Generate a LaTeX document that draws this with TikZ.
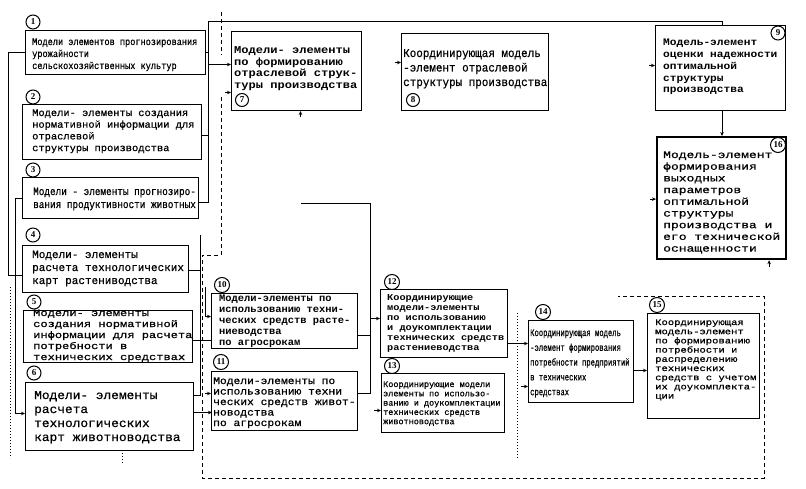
\documentclass[tikz,border=0pt]{standalone}
\usepackage{fontspec}
\setmainfont{Liberation Serif}
\newfontfamily\monofam[UprightFeatures={FakeBold=0.6}]{Liberation Mono}
\usepackage{graphicx}
\usetikzlibrary{arrows.meta}
\newcommand\bt[5]{\scalebox{#1}[1]{\fontsize{#2}{#3}\selectfont\monofam#4\begin{tabular}[t]{@{}l@{}}#5\end{tabular}}}
\tikzset{
  boxst/.style={draw, line width=1pt, inner sep=0pt, anchor=north west},
  txt/.style={anchor=base west, inner sep=0pt},
  num/.style={circle, draw, line width=1pt, inner sep=0pt, minimum size=14pt, font=\fontsize{9}{9}\selectfont\bfseries},
  ln/.style={line width=0.9pt},
  arr/.style={line width=0.9pt, -{Stealth[length=4pt,width=3.5pt]}},
  dsh/.style={line width=0.8pt, dash pattern=on 4pt off 3pt},
  dtt/.style={line width=0.8pt, dash pattern=on 1pt off 2pt}
}
\begin{document}
\begin{tikzpicture}[x=1pt,y=-1pt]
\fill[white] (0,0) rectangle (806,489);
\useasboundingbox (0,0) rectangle (806,489);

% boxes
\node[boxst, minimum width=180pt, minimum height=44pt] (b1) at (25,30) {};
\node[boxst, minimum width=179pt, minimum height=55pt] (b2) at (22,104) {};
\node[boxst, minimum width=176pt, minimum height=41pt] (b3) at (22,177) {};
\node[boxst, minimum width=166pt, minimum height=47pt] (b4) at (22,245) {};
\node[boxst, minimum width=169pt, minimum height=52pt] (b5) at (23,310) {};
\node[boxst, minimum width=168pt, minimum height=68pt] (b6) at (25,382) {};
\node[boxst, minimum width=130pt, minimum height=79pt] (b7) at (231,31) {};
\node[boxst, minimum width=147pt, minimum height=77pt] (b8) at (401,33) {};
\node[boxst, minimum width=130pt, minimum height=85pt] (b9) at (655,25) {};
\node[boxst, line width=2.2pt, minimum width=129pt, minimum height=122pt] (b16) at (656,136) {};
\node[boxst, minimum width=146pt, minimum height=55pt] (b10) at (211,293) {};
\node[boxst, minimum width=146pt, minimum height=59pt] (b11) at (211,371) {};
\node[boxst, minimum width=127pt, minimum height=68pt] (b12) at (380,289) {};
\node[boxst, minimum width=123pt, minimum height=59pt] (b13) at (381,373) {};
\node[boxst, minimum width=105pt, minimum height=82pt] (b14) at (528,320) {};
\node[boxst, minimum width=112pt, minimum height=105pt] (b15) at (647,313) {};

% texts
\node[txt] (t1) at (32,45) {\bt{0.86}{10}{12}{}{Модели элементов прогнозирования\\урожайности\\сельскохозяйственных  культур}};
\node[txt] (t2) at (32,116) {\bt{1.04}{10}{11.7}{}{Модели- элементы создания\\нормативной информации для\\отраслевой\\структуры производства}};
\node[txt] (t3) at (33,195) {\bt{0.85}{11}{13}{}{Модели - элементы прогнозиро-\\вания продуктивности животных}};
\node[txt] (t4) at (32,258) {\bt{1.0}{11}{13}{}{Модели- элементы\\расчета технологических\\карт растениводства}};
\node[txt] (t5) at (33,316) {\bt{1.27}{9.5}{11}{}{Модели- элементы\\создания нормативной\\информации для расчета\\потребности в\\технических средствах}};
\node[txt] (t6) at (34,399) {\bt{1.07}{12}{14}{}{Модели- элементы\\расчета\\технологических\\карт животноводства}};
\node[txt] (t7) at (234,54) {\bt{1.15}{10.5}{11.5}{\bfseries}{Модели- элементы\\по формированию\\отраслевой струк-\\туры производства}};
\node[txt] (t8) at (403,57) {\bt{0.91}{12}{14.5}{}{Координирующая модель\\-элемент отраслевой\\структуры производства}};
\node[txt] (t9) at (663,46) {\bt{1.12}{10}{11.7}{\bfseries}{Модель-элемент\\оценки надежности\\оптимальной\\структуры\\производства}};
\node[txt] (t16) at (663,158) {\bt{1.3}{10}{11.7}{}{Модель-элемент\\формирования\\выходных\\параметров\\оптимальной\\структуры\\производства и\\его технической\\оснащенности}};
\node[txt] (t10) at (219,301) {\bt{1.04}{10}{11}{\bfseries}{Модели-элементы по\\использованию техни-\\ческих средств расте-\\ниеводства\\по агросрокам}};
\node[txt] (t11) at (213,384) {\bt{1.13}{10}{10.5}{}{Модели-элементы по\\использованию техни\\ческих средств живот-\\новодства\\по агросрокам}};
\node[txt] (t12) at (387,300) {\bt{1.14}{9}{10}{\bfseries}{Координирующие\\модели-элементы\\по использованию\\и доукомплектации\\технических средств\\растениеводства}};
\node[txt] (t13) at (383,387) {\bt{1.0}{8.5}{9.3}{}{Координирующие модели\\элементы по использо-\\ванию и доукомплектации\\технических средств\\животноводства}};
\node[txt] (t14) at (530,336) {\bt{0.72}{10}{14.8}{}{Координирующая модель\\-элемент формирования\\потребности предприятий\\в технических\\средствах}};
\node[txt] (t15) at (655,325) {\bt{1.24}{8.5}{9.2}{}{Координирующая\\модель-элемент\\по формированию\\потребности и\\распределению\\технических\\средств с учетом\\их доукомплекта-\\ции}};

% numbers
\node[num] (n1) at (33,22) {1};
\node[num] (n2) at (33,97) {2};
\node[num] (n3) at (33,170) {3};
\node[num] (n4) at (33,235) {4};
\node[num] (n5) at (34,302) {5};
\node[num] (n6) at (34,373) {6};
\node[num, minimum size=13pt] (n7) at (242,100) {7};
\node[num, minimum size=13pt] (n8) at (413,100) {8};
\node[num] (n9) at (778,33) {9};
\node[num, minimum size=15pt] (n16) at (778,145) {16};
\node[num, minimum size=15pt] (n10) at (222,285) {10};
\node[num, minimum size=15pt] (n11) at (221,362) {11};
\node[num, minimum size=15pt] (n12) at (392,282) {12};
\node[num, minimum size=15pt] (n13) at (392,366) {13};
\node[num, minimum size=15pt] (n14) at (543,312) {14};
\node[num, minimum size=15pt] (n15) at (657,305) {15};

% upper trunk
\coordinate (tA) at (208,21);
\coordinate (tB) at (722,21);
\draw[ln] ([yshift=-4.5pt]b3.east) -| (tA) -- (tB) -- (tB |- b9.north);
\draw[ln] (b1.east) -- ++(3,0);
\draw[ln] ([yshift=-3.5pt]b2.east) -- ++(6,0);
\draw[arr] ([yshift=6.5pt]b7.west) ++(-23,0) -- ++(23,0);
\draw[arr] (b9.south -| tB) -- (b16.north -| tB);

% stubs
\draw[arr] ([yshift=9.5pt]b8.west) ++(-6,0) -- ++(6,0);
\draw[arr] ([yshift=2.5pt]b9.west) ++(-6,0) -- ++(6,0);
\draw[arr] ([yshift=-1pt]b16.west) ++(-6,0) -- ++(6,0);
\draw[arr] ([yshift=-21.5pt]b7.west) ++(-6,0) -- ++(6,0);
\draw[arr] ([xshift=4pt]b7.south) ++(0,6) -- ++(0,-6);
\draw[arr] ([xshift=47.5pt]b16.south) ++(0,7) -- ++(0,-7);

% left side
\draw[ln] (b1.west) -- ++(-17,0) |- ([yshift=-6.5pt]b4.west);
\draw[arr] ([yshift=-0.5pt]b3.west) -- ++(-7,0) |- ([yshift=3pt]b6.west);
\draw[ln] ([yshift=-1.5pt]b4.east) -- ++(11,0);
\draw[ln] ([yshift=21pt]b6.east) -- ++(6,0) -- ++(0,-160);
\draw[ln] ([yshift=-4pt]b5.east) -- ++(19,0);
\draw[arr] ([yshift=4pt]b6.east) -- ++(18,0);
\draw[arr] ([yshift=7.5pt]b11.west) ++(-6,0) -- ++(6,0);
\draw[arr] ([yshift=4.5pt]b10.west) ++(-6,-30) -- ++(0,30) -- ++(6,0);

% middle trunk
\coordinate (fe) at (301,203);
\draw[ln] (fe) -- ++(69,0) |- ([yshift=7.5pt]b11.east);
\draw[ln] ([yshift=-14.5pt]b10.east) -- ++(13,0);
\draw[arr] ([yshift=5pt]b12.west) ++(-10,0) -- ++(10,0);
\draw[arr] ([yshift=-7.5pt]b13.west) ++(-7,0) -- ++(7,0);
\draw[arr] ([yshift=-20pt]b12.east) -- ([yshift=18pt]b14.west);
\draw[arr] ([yshift=-25pt]b14.west) ++(-7,0) -- ++(7,0);
\draw[arr] ([yshift=-9pt]b14.east) -- ([yshift=-4.5pt]b15.west);

% dashed and dotted
\draw[dsh] (221,12) -- (221,55);
\draw[dsh] (221,97) -- (221,255) -- (202,255) -- (202,478) -- (764,478) -- (764,296) -- (618,296);
\draw[dtt] (10,287) -- (10,458);
\draw[dtt] (122,450) -- (122,463);
\draw[dtt] (517,313) -- (517,458);
\end{tikzpicture}
\end{document}
